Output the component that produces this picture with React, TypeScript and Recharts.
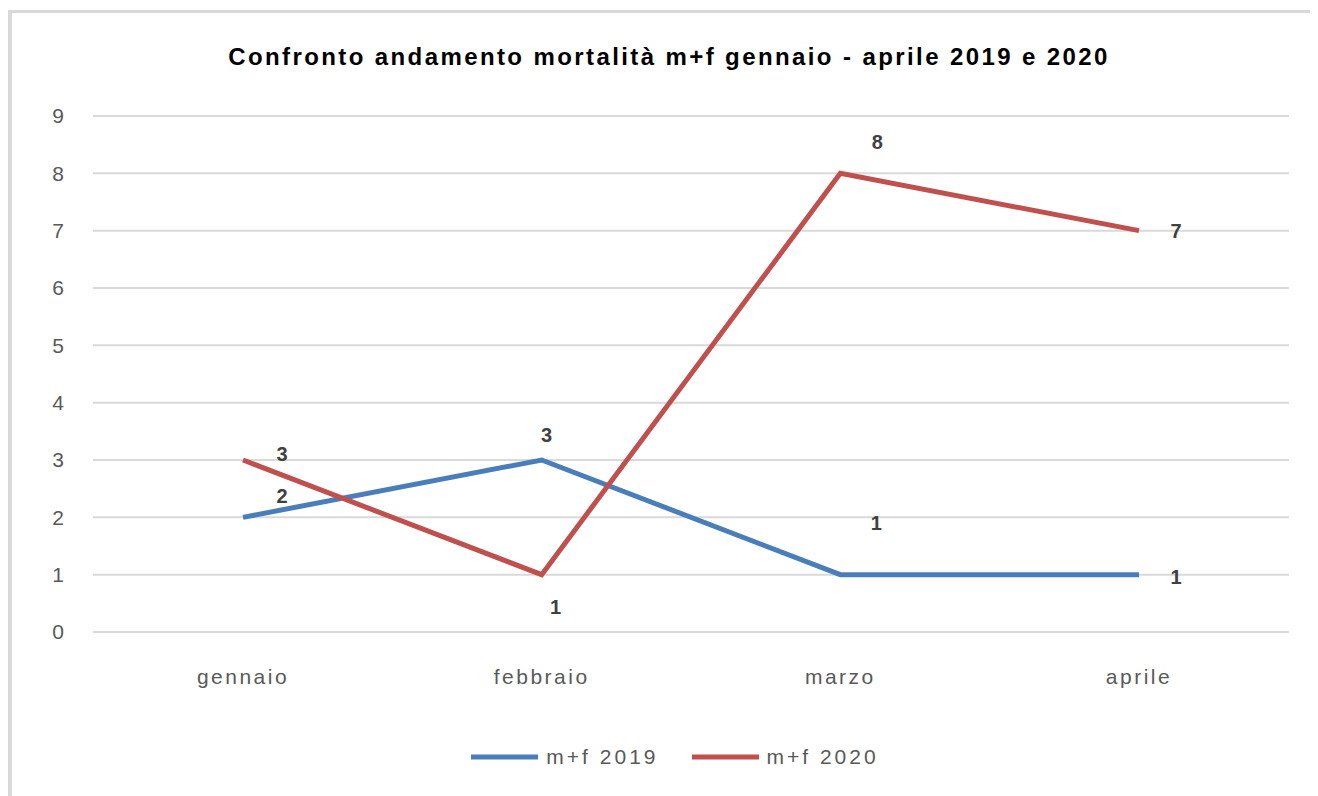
import React from "react";
import { LineChart, Line, XAxis, YAxis, CartesianGrid, Legend, LabelList } from "recharts";

const months = ["gennaio", "febbraio", "marzo", "aprile"];
const series2019 = [2, 3, 1, 1];
const series2020 = [3, 1, 8, 7];
const yTicks = [0, 1, 2, 3, 4, 5, 6, 7, 8, 9];

const data = months.map((m, i) => ({ month: m, y2019: series2019[i], y2020: series2020[i] }));

// label placement offsets (styling only)
const off2019 = [[39, -21], [5, -25], [36, -52], [37, 2]];
const off2020 = [[39, -6], [14, 32], [37, -31], [37, 0]];

const makeLabel = (offs: number[][]) => (props: any) => {
  const { x, y, value, index } = props;
  const o = offs[index] || [0, 0];
  return (
    <text
      x={x + o[0]}
      y={y + o[1]}
      textAnchor="middle"
      dominantBaseline="central"
      fill="#404040"
      fontSize={20}
      fontWeight="bold"
      fontFamily="Liberation Sans, Arial, sans-serif"
    >
      {value}
    </text>
  );
};

const LegendContent = (props: any) => {
  const { payload } = props;
  return (
    <div style={{ display: "flex", justifyContent: "center", alignItems: "center", height: 24, paddingLeft: 28 }}>
      {(payload || []).map((p: any, i: number) => (
        <div key={i} style={{ display: "flex", alignItems: "center", marginRight: i === 0 ? 33 : 0 }}>
          <svg width={67} height={24} style={{ marginRight: 8 }}>
            <line x1={0} y1={12} x2={67} y2={12} stroke={p.color} strokeWidth={5} />
          </svg>
          <span style={{ color: "#595959", fontSize: 21, letterSpacing: 3 }}>{p.value}</span>
        </div>
      ))}
    </div>
  );
};

export default function App() {
  return (
    <div
      style={{
        position: "relative",
        top: 2,
        width: 1306,
        height: 786,
        borderTop: "3px solid #d9d9d9",
        borderLeft: "4px solid #d9d9d9",
        background: "#fff",
        fontFamily: "Liberation Sans, Arial, sans-serif",
      }}
    >
      <div
        style={{
          position: "absolute",
          left: 0,
          top: 30,
          width: 1314,
          textAlign: "center",
          fontSize: 24,
          fontWeight: "bold",
          color: "#000",
          letterSpacing: 2.4,
        }}
      >
        Confronto andamento mortalità m+f gennaio - aprile 2019 e 2020
      </div>
      <LineChart
        width={1306}
        height={780}
        data={data}
        margin={{ top: 103, right: 29, left: 21, bottom: 107 }}
      >
        <CartesianGrid vertical={false} stroke="#d9d9d9" strokeWidth={2} />
        <XAxis
          dataKey="month"
          axisLine={false}
          tickLine={false}
          tickSize={0}
          tickMargin={37}
          height={30}
          padding={{ left: 150, right: 150 }}
          tick={{ fill: "#595959", fontSize: 21, letterSpacing: 2.5 }}
        />
        <YAxis
          domain={[0, 9]}
          ticks={yTicks}
          interval={0}
          axisLine={false}
          tickLine={false}
          tickSize={0}
          tickMargin={29}
          width={60}
          tick={{ fill: "#595959", fontSize: 21 }}
        />
        <Legend
          verticalAlign="bottom"
          align="center"
          content={LegendContent}
          wrapperStyle={{ top: 732, bottom: "auto", height: 24 }}
        />
        <Line
          type="linear"
          dataKey="y2019"
          name="m+f 2019"
          stroke="#4a7ebb"
          strokeWidth={5}
          dot={false}
          activeDot={false}
          isAnimationActive={false}
        >
          <LabelList dataKey="y2019" content={makeLabel(off2019)} />
        </Line>
        <Line
          type="linear"
          dataKey="y2020"
          name="m+f 2020"
          stroke="#c0504d"
          strokeWidth={5}
          dot={false}
          activeDot={false}
          isAnimationActive={false}
        >
          <LabelList dataKey="y2020" content={makeLabel(off2020)} />
        </Line>
      </LineChart>
    </div>
  );
}
